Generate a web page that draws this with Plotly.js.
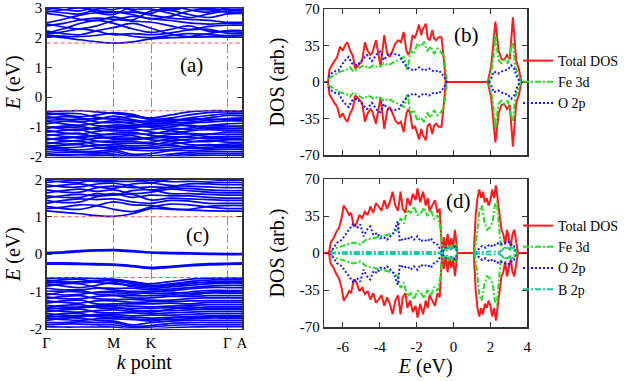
<!DOCTYPE html>
<html><head><meta charset="utf-8">
<script src="https://cdn.plot.ly/plotly-3.0.1.min.js"></script>
<style>html,body{margin:0;padding:0;background:#fff}#chart{width:638px;height:381px}</style>
</head><body><div id="chart"></div>
<script>
// ---------- band structure data ----------
const kS = [0, 0.25, 0.5, 0.75, 1.0, 1.28, 1.56, 1.85, 2.13, 2.42, 2.70, 2.92];
const kTicks = [0, 1.0, 1.56, 2.70, 2.92];
const kLabels = ['Γ', 'M', 'K', 'Γ', 'A'];
const kRange = [0, 2.92];

// panel (a): conduction bands
const bandsA_cond = [
 [2.05,2.00,1.93,1.86,1.82,1.86,1.96,2.00,2.02,2.03,2.02,2.02],
 [2.08,2.05,2.04,2.08,2.14,2.05,2.00,2.08,2.14,2.10,2.07,2.07],
 [2.12,2.20,2.30,2.22,2.10,2.14,2.10,2.16,2.26,2.28,2.15,2.13],
 [2.16,2.30,2.48,2.58,2.48,2.30,2.18,2.28,2.40,2.22,2.20,2.19],
 [2.22,2.14,2.10,2.24,2.34,2.48,2.32,2.12,2.04,2.14,2.24,2.24],
 [2.40,2.48,2.60,2.66,2.62,2.56,2.52,2.40,2.28,2.38,2.42,2.42],
 [2.46,2.36,2.30,2.40,2.58,2.72,2.64,2.58,2.50,2.46,2.48,2.47],
 [2.50,2.62,2.76,2.84,2.84,2.86,2.76,2.66,2.62,2.58,2.52,2.52],
 [2.82,2.74,2.62,2.58,2.70,2.60,2.90,2.92,2.78,2.68,2.80,2.82],
 [2.86,2.94,3.00,2.90,2.88,2.78,2.64,2.72,2.90,2.94,2.86,2.86],
 [2.90,2.84,2.80,2.96,3.04,2.96,2.96,2.82,2.68,2.80,2.90,2.91],
 [2.95,3.03,3.06,2.84,2.78,3.06,3.06,2.98,3.02,2.98,2.95,2.95],
 [3.00,2.95,2.90,3.06,3.10,2.92,2.82,3.06,2.94,2.86,3.00,3.00],
 [3.05,3.08,3.02,3.00,2.95,3.10,3.10,2.92,3.05,3.05,3.04,3.03]
];
// panel (a): valence bands
const bandsA_val = [
 [-0.50,-0.47,-0.46,-0.50,-0.55,-0.62,-0.70,-0.60,-0.50,-0.46,-0.46,-0.47],
 [-0.54,-0.60,-0.66,-0.60,-0.52,-0.58,-0.74,-0.70,-0.60,-0.52,-0.50,-0.50],
 [-0.60,-0.55,-0.56,-0.68,-0.72,-0.66,-0.76,-0.80,-0.70,-0.62,-0.56,-0.56],
 [-0.66,-0.74,-0.82,-0.76,-0.64,-0.76,-0.84,-0.74,-0.78,-0.70,-0.62,-0.63],
 [-0.72,-0.66,-0.70,-0.84,-0.86,-0.84,-0.80,-0.86,-0.84,-0.78,-0.72,-0.70],
 [-0.82,-0.90,-0.94,-0.88,-0.80,-0.90,-0.94,-0.94,-0.88,-0.84,-0.80,-0.80],
 [-0.90,-0.82,-0.84,-0.96,-0.98,-0.98,-0.88,-0.90,-0.98,-0.96,-0.90,-0.88],
 [-0.98,-1.08,-1.12,-1.02,-0.94,-0.96,-1.02,-1.10,-1.04,-0.96,-0.98,-0.97],
 [-1.06,-0.98,-0.98,-1.10,-1.14,-1.12,-1.10,-1.00,-0.94,-1.06,-1.06,-1.05],
 [-1.12,-1.20,-1.24,-1.16,-1.08,-1.06,-1.18,-1.22,-1.14,-1.10,-1.12,-1.12],
 [-1.18,-1.12,-1.10,-1.24,-1.26,-1.24,-1.24,-1.14,-1.22,-1.24,-1.18,-1.18],
 [-1.26,-1.32,-1.36,-1.30,-1.22,-1.18,-1.30,-1.34,-1.32,-1.26,-1.25,-1.25],
 [-1.30,-1.24,-1.22,-1.36,-1.38,-1.38,-1.36,-1.26,-1.24,-1.34,-1.32,-1.32],
 [-1.38,-1.46,-1.46,-1.38,-1.34,-1.30,-1.44,-1.46,-1.42,-1.36,-1.38,-1.38],
 [-1.44,-1.36,-1.38,-1.48,-1.48,-1.50,-1.52,-1.40,-1.48,-1.50,-1.44,-1.44],
 [-1.52,-1.58,-1.56,-1.50,-1.54,-1.56,-1.56,-1.58,-1.52,-1.46,-1.52,-1.52],
 [-1.58,-1.50,-1.48,-1.60,-1.60,-1.64,-1.62,-1.50,-1.60,-1.62,-1.58,-1.58],
 [-1.64,-1.70,-1.68,-1.62,-1.66,-1.70,-1.72,-1.68,-1.66,-1.60,-1.64,-1.64],
 [-1.70,-1.74,-1.78,-1.72,-1.70,-1.78,-1.80,-1.76,-1.72,-1.72,-1.70,-1.70],
 [-1.76,-1.80,-1.84,-1.82,-1.78,-1.92,-1.90,-1.80,-1.80,-1.78,-1.76,-1.76],
 [-1.84,-1.86,-1.86,-1.88,-1.84,-1.97,-1.98,-1.92,-1.86,-1.84,-1.84,-1.84],
 [-1.90,-1.94,-1.94,-1.92,-1.92,-2.02,-2.05,-1.98,-1.92,-1.90,-1.90,-1.90],
 [-1.96,-1.98,-2.00,-1.98,-1.98,-2.08,-2.10,-2.04,-1.98,-1.96,-1.96,-1.96],
 [-0.78,-0.76,-0.74,-0.72,-0.74,-0.80,-0.90,-0.84,-0.74,-0.74,-0.76,-0.76],
 [-1.00,-1.02,-1.04,-1.06,-1.02,-1.02,-0.98,-1.04,-1.08,-1.02,-1.00,-1.00],
 [-1.42,-1.40,-1.32,-1.30,-1.42,-1.44,-1.38,-1.36,-1.36,-1.40,-1.42,-1.42],
 [-1.66,-1.62,-1.60,-1.68,-1.74,-1.74,-1.68,-1.62,-1.70,-1.68,-1.66,-1.66]
];
const edgesA = [1.82, -0.46];

// panel (c): conduction bands
const bandsC_cond = [
 [1.16,1.12,1.08,1.03,1.01,1.08,1.22,1.20,1.18,1.16,1.15,1.15],
 [1.22,1.26,1.32,1.30,1.20,1.14,1.26,1.34,1.32,1.26,1.22,1.22],
 [1.28,1.22,1.20,1.30,1.40,1.32,1.30,1.22,1.20,1.28,1.30,1.30],
 [1.36,1.44,1.48,1.46,1.48,1.40,1.36,1.44,1.42,1.36,1.36,1.36],
 [1.44,1.38,1.40,1.54,1.58,1.60,1.45,1.50,1.48,1.46,1.44,1.44],
 [1.50,1.57,1.60,1.56,1.62,1.52,1.58,1.56,1.56,1.52,1.50,1.50],
 [1.56,1.52,1.52,1.62,1.58,1.70,1.72,1.62,1.62,1.60,1.58,1.58],
 [1.64,1.70,1.74,1.68,1.72,1.62,1.66,1.74,1.70,1.66,1.64,1.64],
 [1.72,1.66,1.66,1.78,1.82,1.78,1.80,1.78,1.76,1.72,1.70,1.70],
 [1.80,1.85,1.88,1.80,1.76,1.88,1.90,1.84,1.82,1.80,1.78,1.78],
 [1.86,1.80,1.80,1.88,1.90,1.82,1.72,1.80,1.88,1.88,1.86,1.86],
 [1.92,1.96,1.98,1.94,1.95,1.95,1.98,1.94,1.95,1.93,1.92,1.92],
 [1.98,1.93,1.92,2.02,2.05,2.02,1.92,2.00,2.02,2.00,1.98,1.98],
 [2.05,2.04,2.02,1.98,1.98,2.08,2.06,2.05,2.08,2.06,2.05,2.05]
];
// panel (c): in-gap bands
const bandsC_gap = [
 [0.04,0.06,0.09,0.11,0.12,0.09,0.05,0.04,0.03,0.02,0.01,0.01],
 [0.01,0.03,0.06,0.08,0.09,0.06,0.03,0.01,0.00,-0.01,-0.02,-0.02],
 [-0.24,-0.24,-0.25,-0.26,-0.27,-0.31,-0.36,-0.33,-0.29,-0.26,-0.25,-0.24],
 [-0.27,-0.27,-0.28,-0.29,-0.30,-0.34,-0.39,-0.36,-0.32,-0.29,-0.28,-0.27]
];
// panel (c): valence bands
const bandsC_val = [
 [-0.65,-0.64,-0.64,-0.66,-0.68,-0.74,-0.80,-0.74,-0.68,-0.65,-0.64,-0.65],
 [-0.70,-0.74,-0.78,-0.74,-0.68,-0.76,-0.84,-0.82,-0.74,-0.70,-0.68,-0.68],
 [-0.74,-0.69,-0.68,-0.76,-0.80,-0.84,-0.88,-0.84,-0.80,-0.75,-0.73,-0.73],
 [-0.80,-0.86,-0.90,-0.84,-0.76,-0.88,-0.92,-0.88,-0.84,-0.80,-0.78,-0.78],
 [-0.86,-0.80,-0.80,-0.90,-0.92,-0.92,-0.96,-0.94,-0.90,-0.86,-0.84,-0.84],
 [-0.92,-0.96,-0.96,-0.92,-0.96,-1.00,-1.00,-0.98,-0.94,-0.90,-0.90,-0.90],
 [-1.06,-1.10,-1.08,-1.02,-1.00,-1.04,-1.06,-1.06,-1.02,-0.98,-0.98,-0.98],
 [-1.10,-1.02,-0.98,-1.08,-1.10,-1.12,-1.12,-1.10,-1.10,-1.05,-1.05,-1.05],
 [-1.15,-1.20,-1.20,-1.14,-1.12,-1.18,-1.18,-1.14,-1.14,-1.12,-1.12,-1.12],
 [-1.20,-1.14,-1.12,-1.20,-1.22,-1.22,-1.24,-1.24,-1.20,-1.18,-1.18,-1.18],
 [-1.26,-1.30,-1.32,-1.26,-1.26,-1.30,-1.28,-1.28,-1.26,-1.25,-1.25,-1.25],
 [-1.32,-1.26,-1.24,-1.34,-1.34,-1.34,-1.34,-1.32,-1.34,-1.30,-1.30,-1.30],
 [-1.38,-1.42,-1.42,-1.38,-1.38,-1.40,-1.42,-1.40,-1.38,-1.36,-1.36,-1.36],
 [-1.44,-1.38,-1.36,-1.44,-1.46,-1.46,-1.46,-1.44,-1.46,-1.42,-1.42,-1.42],
 [-1.50,-1.54,-1.56,-1.52,-1.50,-1.54,-1.52,-1.52,-1.50,-1.48,-1.48,-1.48],
 [-1.55,-1.50,-1.48,-1.56,-1.58,-1.58,-1.60,-1.58,-1.56,-1.54,-1.54,-1.54],
 [-1.60,-1.64,-1.66,-1.62,-1.62,-1.66,-1.64,-1.64,-1.62,-1.60,-1.60,-1.60],
 [-1.66,-1.60,-1.60,-1.68,-1.70,-1.70,-1.72,-1.70,-1.68,-1.66,-1.66,-1.66],
 [-1.72,-1.76,-1.78,-1.74,-1.74,-1.76,-1.76,-1.76,-1.74,-1.72,-1.72,-1.72],
 [-1.78,-1.72,-1.72,-1.78,-1.80,-1.90,-1.84,-1.80,-1.78,-1.78,-1.78,-1.78],
 [-1.84,-1.84,-1.82,-1.84,-1.84,-1.94,-1.92,-1.86,-1.84,-1.84,-1.84,-1.84],
 [-1.90,-1.88,-1.88,-1.90,-1.90,-1.98,-1.96,-1.92,-1.90,-1.90,-1.90,-1.90],
 [-1.95,-1.96,-1.96,-1.96,-1.96,-2.02,-2.02,-1.98,-1.96,-1.95,-1.95,-1.95],
 [-0.77,-0.76,-0.74,-0.72,-0.72,-0.80,-0.86,-0.80,-0.76,-0.77,-0.76,-0.76],
 [-1.00,-1.00,-1.02,-1.04,-1.04,-1.08,-1.02,-1.02,-1.06,-1.02,-1.01,-1.01],
 [-1.46,-1.46,-1.44,-1.42,-1.42,-1.50,-1.56,-1.48,-1.42,-1.46,-1.46,-1.46],
 [-1.69,-1.68,-1.68,-1.66,-1.66,-1.74,-1.80,-1.72,-1.70,-1.69,-1.69,-1.69]
];
const edgesC = [1.00, -0.63];

// ---------- DOS data (spin-up values; spin-down drawn mirrored; null = gap) ----------
// panel (b)
const eTotB = [-7.0,-6.8,-6.72,-6.6,-6.45,-6.3,-6.15,-6.0,-5.85,-5.75,-5.6,-5.45,-5.33,-5.2,-5.05,-4.95,-4.8,-4.65,-4.5,-4.4,-4.2,-4.05,-3.95,-3.85,-3.75,-3.6,-3.45,-3.3,-3.15,-3.0,-2.85,-2.7,-2.55,-2.45,-2.35,-2.22,-2.1,-1.98,-1.87,-1.75,-1.68,-1.5,-1.4,-1.28,-1.15,-1.05,-0.95,-0.8,-0.65,-0.52,-0.42,1.86,1.95,2.04,2.15,2.27,2.45,2.60,2.75,2.90,3.05,3.22,3.40,3.55,3.68,4.0];
const totB  = [0,0,12,16,20,24,34,30,36,38,30,25,13,15,18,20,38,30,26,28,40,25,15,30,45,28,24,30,37,40,38,48,30,26,30,45,42,48,55,45,50,56,42,40,50,42,40,43,43,21,0,0,8,15,35,58,30,22,21,26,22,62,20,12,0,0];
const eFeB = [-6.78,-6.51,-6.14,-5.87,-5.60,-5.42,-5.15,-4.87,-4.60,-4.33,-4.05,-3.78,-3.51,-3.24,-2.96,-2.69,-2.50,-2.32,-2.14,-1.96,-1.78,-1.60,-1.41,-1.23,-1.05,-0.87,-0.69,-0.51,-0.35,null,1.90,1.95,2.13,2.27,2.44,2.59,2.77,2.95,3.13,3.22,3.35,3.50,3.64];
const feB  = [3,6,10,11,14,10,13,16,13,16,14,18,16,19,21,24,11,30,27,37,34,38,30,34,27,32,29,24,0,null,0,3,18,45,21,18,21,18,34,38,14,8,0];
const eOB = [-6.78,-6.51,-6.23,-5.96,-5.69,-5.51,-5.23,-4.96,-4.69,-4.42,-4.14,-3.96,-3.78,-3.51,-3.24,-2.96,-2.69,-2.42,-2.14,-1.87,-1.60,-1.33,-1.05,-0.78,-0.51,-0.35,null,1.92,2.04,2.19,2.41,2.59,2.80,2.95,3.13,3.28,3.42,3.59];
const oB  = [5,10,11,19,24,18,16,21,26,20,27,29,21,27,27,26,18,13,11,14,11,13,10,11,5,0,null,0,3,10,8,10,11,12,16,13,6,0];

// panel (d)
const eTotD = [-7.0,-6.75,-6.65,-6.5,-6.35,-6.2,-6.05,-5.95,-5.8,-5.65,-5.55,-5.4,-5.25,-5.1,-4.95,-4.8,-4.65,-4.5,-4.35,-4.2,-4.05,-3.9,-3.75,-3.6,-3.45,-3.3,-3.15,-3.0,-2.87,-2.75,-2.6,-2.5,-2.35,-2.2,-2.05,-1.95,-1.8,-1.65,-1.5,-1.4,-1.3,-1.15,-1.0,-0.87,-0.75,-0.68,-0.62,-0.52,-0.42,-0.32,-0.22,-0.12,-0.02,0.08,0.16,0.22,1.1,1.2,1.3,1.4,1.5,1.6,1.7,1.8,1.9,2.0,2.1,2.2,2.3,2.4,2.5,2.6,2.7,2.8,2.9,3.0,3.1,3.2,3.3,3.4,3.5,4.0];
const totD  = [0,0,10,14,20,24,34,45,41,36,38,25,28,36,33,39,36,44,38,47,44,40,50,42,48,58,45,40,58,42,38,52,45,56,50,61,48,58,45,52,40,45,50,38,42,20,0,15,3,18,4,14,5,22,5,0,0,35,52,60,52,58,48,52,45,50,60,52,64,48,35,22,18,8,22,12,6,18,22,10,0,0];
const eFeD = [-6.69,-6.51,-6.14,-5.78,-5.42,-5.05,-4.69,-4.33,-3.96,-3.60,-3.24,-3.02,-2.87,-2.69,-2.50,-2.32,-2.14,-1.96,-1.78,-1.60,-1.41,-1.23,-1.05,-0.87,-0.69,-0.60,-0.55,-0.45,-0.35,-0.25,-0.15,-0.05,0.05,0.12,0.20,null,1.13,1.28,1.40,1.53,1.67,1.82,1.97,2.13,2.25,2.35,2.44,2.55,2.70,2.90,3.10,3.30,3.45];
const feD  = [0,4,6,8,10,8,13,14,16,17,19,22,33,28,41,38,44,36,37,43,35,41,32,36,22,0,0,6,2,8,3,7,4,9,0,null,0,18,40,45,30,22,24,30,46,49,30,8,4,5,3,5,0];
const eOD = [-6.69,-6.51,-6.32,-6.05,-5.78,-5.60,-5.42,-5.23,-5.05,-4.87,-4.69,-4.51,-4.33,-4.14,-3.96,-3.78,-3.60,-3.42,-3.24,-3.02,-2.91,-2.69,-2.50,-2.32,-2.14,-1.96,-1.78,-1.60,-1.41,-1.23,-1.05,-0.87,-0.69,-0.60,-0.50,-0.35,-0.20,-0.05,0.10,0.20,null,1.20,1.35,1.55,1.75,1.95,2.15,2.35,2.55,2.75,2.95,3.10,3.25,3.40];
const oD  = [0,4.5,9.5,12.6,19,23.6,28,23.6,27,15.8,22,25,17,19,14,15,12.6,15.8,19,30,11,14,12.6,15.8,12.6,15.8,11,12.6,11,14,9.5,8,3,0,4,6,3,5,6,0,null,0,3.5,6.6,5,8,6,9.5,8,9.5,11,8,8,0];
const eBD = [-6.7,-6.0,-5.0,-4.0,-3.0,-2.0,-1.0,-0.62,-0.5,-0.3,-0.1,0.1,0.2,null,1.1,1.5,2.0,2.5,2.65,2.8,2.95,3.1,3.25,3.35];
const bD  = [0,0.8,1,1,1.2,1,1,0,3,5,4,5,0,null,0,1,1.5,1,3,5,4,5,5,0];

const eTicks = [-6,-4,-2,0,2,4];
const eTickText = ['-6','-4','-2','0','2','4'];
const dosTicks = [-70,-35,0,35,70];
const dosTickText = ['-70','-35','0','35','70'];
const bandTicksA = [-2,-1,0,1,2,3];
const bandTickTextA = ['-2','-1','0','1','2','3'];
const bandTicksC = [-2,-1,0,1,2];
const bandTickTextC = ['-2','-1','0','1','2'];

// ---------- build traces ----------
const FONT = '"Liberation Serif", "DejaVu Serif", serif';
const traces = [];
function addBands(list, xa, ya) {
  list.forEach(b => traces.push({x: kS, y: b, xaxis: xa, yaxis: ya, type: 'scatter', mode: 'lines',
    line: {color: '#0000ff', width: 1.7, shape: 'spline', smoothing: 1}, showlegend: false, hoverinfo: 'skip'}));
}
function addEdges(list, xa, ya) {
  list.forEach(e => traces.push({x: kRange, y: [e, e], xaxis: xa, yaxis: ya, type: 'scatter', mode: 'lines',
    line: {color: '#ff4d4d', width: 1, dash: '4px,3px'}, showlegend: false, hoverinfo: 'skip'}));
}
addBands(bandsA_cond, 'x', 'y'); addBands(bandsA_val, 'x', 'y'); addEdges(edgesA, 'x', 'y');
addBands(bandsC_cond, 'x3', 'y3'); addBands(bandsC_gap, 'x3', 'y3'); addBands(bandsC_val, 'x3', 'y3'); addEdges(edgesC, 'x3', 'y3');

const styles = {
  tot: {color: '#ff1a1a', width: 2},
  fe: {color: '#22dd22', width: 2, dash: '6px,2px,2px,2px'},
  o: {color: '#1a1aff', width: 2, dash: '2px,2px'},
  b: {color: '#1fc4a0', width: 2, dash: '6px,2px,2px,2px'}
};
function addDos(E, V, name, st, xa, ya, lg) {
  traces.push({x: E, y: V, xaxis: xa, yaxis: ya, type: 'scatter', mode: 'lines', name: name,
    line: st, legend: lg, legendgroup: lg + name, hoverinfo: 'skip'});
  traces.push({x: E, y: V.map(v => (v === null ? null : -v)), xaxis: xa, yaxis: ya, type: 'scatter', mode: 'lines', name: name,
    line: st, legend: lg, legendgroup: lg + name, showlegend: false, hoverinfo: 'skip'});
}
addDos(eTotB, totB, 'Total DOS', styles.tot, 'x2', 'y2', 'legend');
addDos(eFeB, feB, 'Fe 3d', styles.fe, 'x2', 'y2', 'legend');
addDos(eOB, oB, 'O 2p', styles.o, 'x2', 'y2', 'legend');
addDos(eTotD, totD, 'Total DOS', styles.tot, 'x4', 'y4', 'legend2');
addDos(eFeD, feD, 'Fe 3d', styles.fe, 'x4', 'y4', 'legend2');
addDos(eOD, oD, 'O 2p', styles.o, 'x4', 'y4', 'legend2');
addDos(eBD, bD, 'B 2p', styles.b, 'x4', 'y4', 'legend2');

// ---------- layout ----------
const W = 638, H = 381;
const px = (a, b) => [a / W, b / W];
const py = (top, bot) => [1 - bot / H, 1 - top / H];
const frame = {showline: true, mirror: 'ticks', linecolor: '#333', linewidth: 1.5, ticks: 'inside', ticklen: 5,
  tickcolor: '#333', tickwidth: 1, zeroline: false, showgrid: false, fixedrange: true,
  tickfont: {family: FONT, size: 15, color: '#000'}};
const titleFont = {family: FONT, size: 20, color: '#000'};
const letterFont = {family: FONT, size: 21, color: '#000'};
const letter = (t, x, y) => ({text: t, x: x / W, y: 1 - y / H, xref: 'paper', yref: 'paper', xanchor: 'center',
  yanchor: 'middle', showarrow: false, font: letterFont});

const layout = {
  width: W, height: H, margin: {l: 0, r: 0, t: 0, b: 0}, paper_bgcolor: '#fff', plot_bgcolor: '#fff',
  font: {family: FONT, color: '#000'},
  xaxis: Object.assign({}, frame, {domain: px(46.7, 242), range: kRange, anchor: 'y', tickmode: 'array',
    tickvals: kTicks, ticktext: kLabels, showticklabels: false, showgrid: true, gridcolor: '#8c8c8c',
    griddash: 'dashdot', gridwidth: 1}),
  yaxis: Object.assign({}, frame, {domain: py(8, 156.5), range: [-2, 3], anchor: 'x', tickmode: 'array',
    tickvals: bandTicksA, ticktext: bandTickTextA,
    title: {text: '<i>E</i> (eV)', font: titleFont, standoff: 3}}),
  xaxis2: Object.assign({}, frame, {domain: px(324.3, 527.3), range: [-7, 4], anchor: 'y2', tickmode: 'array',
    tickvals: eTicks, ticktext: eTickText, showticklabels: false}),
  yaxis2: Object.assign({}, frame, {domain: py(9, 155), range: [-70, 70], anchor: 'x2', tickmode: 'array',
    tickvals: dosTicks, ticktext: dosTickText,
    title: {text: 'DOS (arb.)', font: titleFont, standoff: 10}}),
  xaxis3: Object.assign({}, frame, {domain: px(46.7, 242), range: kRange, anchor: 'y3', tickmode: 'array',
    tickvals: kTicks, ticktext: kLabels, showgrid: true, gridcolor: '#8c8c8c', griddash: 'dashdot', gridwidth: 1,
    title: {text: '<i>k</i> point', font: titleFont, standoff: 5}}),
  yaxis3: Object.assign({}, frame, {domain: py(179.5, 328.5), range: [-2, 2], anchor: 'x3', tickmode: 'array',
    tickvals: bandTicksC, ticktext: bandTickTextC,
    title: {text: '<i>E</i> (eV)', font: titleFont, standoff: 3}}),
  xaxis4: Object.assign({}, frame, {domain: px(324.3, 527.3), range: [-7, 4], anchor: 'y4', tickmode: 'array',
    tickvals: eTicks, ticktext: eTickText, ticklabelstandoff: 5,
    title: {text: '<i>E</i> (eV)', font: titleFont, standoff: 5}}),
  yaxis4: Object.assign({}, frame, {domain: py(179, 327), range: [-70, 70], anchor: 'x4', tickmode: 'array',
    tickvals: dosTicks, ticktext: dosTickText,
    title: {text: 'DOS (arb.)', font: titleFont, standoff: 10}}),
  legend: {x: 518 / W, y: 1 - 45 / H, xanchor: 'left', yanchor: 'top', bgcolor: 'rgba(0,0,0,0)',
    font: {family: FONT, size: 14, color: '#000'}, itemwidth: 30, tracegroupgap: 0},
  legend2: {x: 518 / W, y: 1 - 210 / H, xanchor: 'left', yanchor: 'top', bgcolor: 'rgba(0,0,0,0)',
    font: {family: FONT, size: 14, color: '#000'}, itemwidth: 30, tracegroupgap: 0},
  annotations: [
    letter('(a)', 191, 65), letter('(b)', 466, 35), letter('(c)', 197, 235), letter('(d)', 458, 201)
  ]
};
Plotly.newPlot('chart', traces, layout, {staticPlot: true, displayModeBar: false});
</script></body></html>
